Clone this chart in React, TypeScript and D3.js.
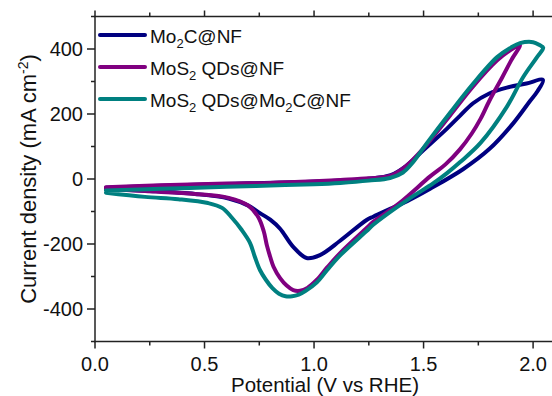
import React from "react";
import * as d3 from "d3";

// ---- Data (V vs RHE, mA cm^-2) ----
const seriesNames = ["Mo2C@NF", "MoS2 QDs@NF", "MoS2 QDs@Mo2C@NF"];

const mo2cAnodic: [number, number][] = [
  [0.05, -27], [0.3, -21], [0.6, -15], [0.9, -10], [1.1, -5], [1.25, 1], [1.35, 12],
  [1.42, 40], [1.5, 89], [1.607, 155], [1.667, 195], [1.726, 233], [1.8, 263],
  [1.88, 281], [1.97, 294], [2.045, 305],
];
const mo2cCathodic: [number, number][] = [
  [2.045, 305], [2.02, 270], [1.986, 240], [1.91, 172], [1.8, 92], [1.68, 30],
  [1.53, -30], [1.425, -68], [1.347, -92], [1.27, -116], [1.24, -126], [1.119, -190],
  [1.027, -234], [0.966, -243], [0.905, -209], [0.845, -153], [0.8, -125], [0.753, -105],
  [0.7, -82], [0.61, -60], [0.457, -46], [0.228, -36], [0.05, -30],
];

const mos2Anodic: [number, number][] = [
  [0.05, -25], [0.3, -19], [0.6, -14], [0.8, -12], [1.0, -7], [1.12, -3], [1.25, 2],
  [1.35, 10], [1.42, 40], [1.5, 95], [1.62, 195], [1.726, 285], [1.836, 365],
  [1.9, 398], [1.94, 412],
];
const mos2Cathodic: [number, number][] = [
  [1.94, 412], [1.9, 365], [1.86, 314], [1.8, 240], [1.76, 185], [1.72, 140],
  [1.667, 92], [1.6, 45], [1.53, 8], [1.39, -74], [1.27, -132], [1.24, -151],
  [1.119, -228], [1.06, -272], [1.013, -310], [0.97, -335], [0.936, -344],
  [0.905, -342], [0.875, -328], [0.845, -305], [0.815, -270], [0.8, -240],
  [0.785, -205], [0.77, -160], [0.745, -117], [0.7, -82], [0.61, -58],
  [0.457, -46], [0.228, -37], [0.05, -30],
];

const hybridAnodic: [number, number][] = [
  [0.05, -35], [0.3, -30], [0.6, -24], [0.8, -20], [1.0, -16], [1.12, -12],
  [1.25, -5], [1.347, 3], [1.406, 20], [1.45, 50], [1.516, 111], [1.62, 203],
  [1.726, 293], [1.836, 375], [1.9, 405], [1.94, 418], [2.0, 421], [2.03, 412],
  [2.046, 404],
];
const hybridCathodic: [number, number][] = [
  [2.046, 404], [2.018, 375], [1.955, 314], [1.88, 222], [1.76, 111], [1.667, 52],
  [1.607, 18], [1.545, -13], [1.425, -65], [1.27, -141], [1.24, -160],
  [1.119, -235], [1.06, -280], [1.013, -318], [0.96, -345], [0.93, -356],
  [0.9, -361], [0.87, -361], [0.84, -353], [0.81, -336], [0.78, -310],
  [0.753, -280], [0.73, -240], [0.708, -197], [0.67, -157], [0.626, -120],
  [0.58, -89], [0.516, -74], [0.38, -62], [0.228, -55], [0.05, -42],
];

const xMajorTicks = [0, 0.5, 1.0, 1.5, 2.0];
const xMinorTicks = [0.25, 0.75, 1.25, 1.75];
const yMajorTicks = [-400, -200, 0, 200, 400];
const yMinorTicks = [-500, -300, -100, 100, 300, 500];

const colors = ["#000080", "#800080", "#008080"];
const FONT = "'Liberation Sans', Arial, Helvetica, sans-serif";

export default function App() {
  const width = 552;
  const height = 396;
  const x = d3.scaleLinear().domain([0, 2.1]).range([95, 555]);
  const y = d3.scaleLinear().domain([-500, 500]).range([341.5, 16.5]);

  const line = d3
    .line<[number, number]>()
    .x((d) => x(d[0]))
    .y((d) => y(d[1]))
    .curve(d3.curveCatmullRom.alpha(0.5));

  const loops = [
    mo2cAnodic.concat(mo2cCathodic.slice(1)),
    mos2Anodic.concat(mos2Cathodic.slice(1)),
    hybridAnodic.concat(hybridCathodic.slice(1)),
  ];

  const x0 = x(0);
  const yBottom = y(-500);
  const yTop = y(500);
  const axisColor = "#222";

  const sub = (t: string) => (
    <tspan fontSize={13} dy={5}>{t}</tspan>
  );
  const back = (t: string) => <tspan dy={-5}>{t}</tspan>;

  const legendLabels = [
    <>Mo{sub("2")}{back("C@NF")}</>,
    <>MoS{sub("2")}{back(" QDs@NF")}</>,
    <>MoS{sub("2")}{back(" QDs@Mo")}{sub("2")}{back("C@NF")}</>,
  ];

  return (
    <svg
      width={width}
      height={height}
      style={{ position: "absolute", left: 0, top: 0, background: "#fff" }}
      fontFamily={FONT}
    >
      <rect x={0} y={0} width={width} height={height} fill="#fff" />
      {/* curves */}
      <g fill="none" strokeWidth={4} strokeLinejoin="round" strokeLinecap="round">
        {loops.map((pts, i) => (
          <path key={seriesNames[i]} d={line(pts) || ""} stroke={colors[i]} />
        ))}
      </g>

      {/* axes */}
      <g stroke={axisColor} strokeWidth={1.5}>
        <line x1={x0} x2={x0} y1={yTop} y2={yBottom + 0.75} />
        <line x1={x0 - 0.75} x2={width} y1={yBottom} y2={yBottom} />
        <line x1={x0 - 0.75} x2={width} y1={yTop} y2={yTop} />
        {xMajorTicks.map((t) => (
          <g key={"xM" + t}>
            <line x1={x(t)} x2={x(t)} y1={yBottom} y2={yBottom + 7} />
            <line x1={x(t)} x2={x(t)} y1={yTop} y2={yTop - 6} />
          </g>
        ))}
        {xMinorTicks.map((t) => (
          <g key={"xm" + t}>
            <line x1={x(t)} x2={x(t)} y1={yBottom} y2={yBottom + 4} />
            <line x1={x(t)} x2={x(t)} y1={yTop} y2={yTop - 4} />
          </g>
        ))}
        {yMajorTicks.map((t) => (
          <line key={"yM" + t} x1={x0 - 8} x2={x0} y1={y(t)} y2={y(t)} />
        ))}
        {yMinorTicks.map((t) => (
          <line key={"ym" + t} x1={x0 - 4} x2={x0} y1={y(t)} y2={y(t)} />
        ))}
      </g>

      {/* tick labels */}
      <g fontSize={20} fill="#111">
        {xMajorTicks.map((t) => (
          <text key={"xl" + t} x={x(t)} y={371} textAnchor="middle">
            {d3.format(".1f")(t)}
          </text>
        ))}
        {yMajorTicks.map((t) => (
          <text key={"yl" + t} x={83} y={y(t) + 7} textAnchor="end">
            {t}
          </text>
        ))}
      </g>

      {/* axis titles */}
      <text x={325} y={392} textAnchor="middle" fontSize={20.5} fill="#111">
        Potential (V vs RHE)
      </text>
      <text
        transform={`translate(36,179) rotate(-90)`}
        textAnchor="middle"
        fontSize={22}
        fill="#111"
      >
        Current density (mA cm<tspan fontSize={14} dy={-8}>-2</tspan>
        <tspan dy={8}>)</tspan>
      </text>

      {/* legend */}
      <g>
        {seriesNames.map((name, i) => (
          <g key={"lg" + name}>
            <line
              x1={100}
              x2={145}
              y1={35 + i * 32}
              y2={35 + i * 32}
              stroke={colors[i]}
              strokeWidth={4}
              strokeLinecap="round"
            />
            <text x={150} y={43 + i * 32} fontSize={19} fill="#111">
              {legendLabels[i]}
            </text>
          </g>
        ))}
      </g>
    </svg>
  );
}
